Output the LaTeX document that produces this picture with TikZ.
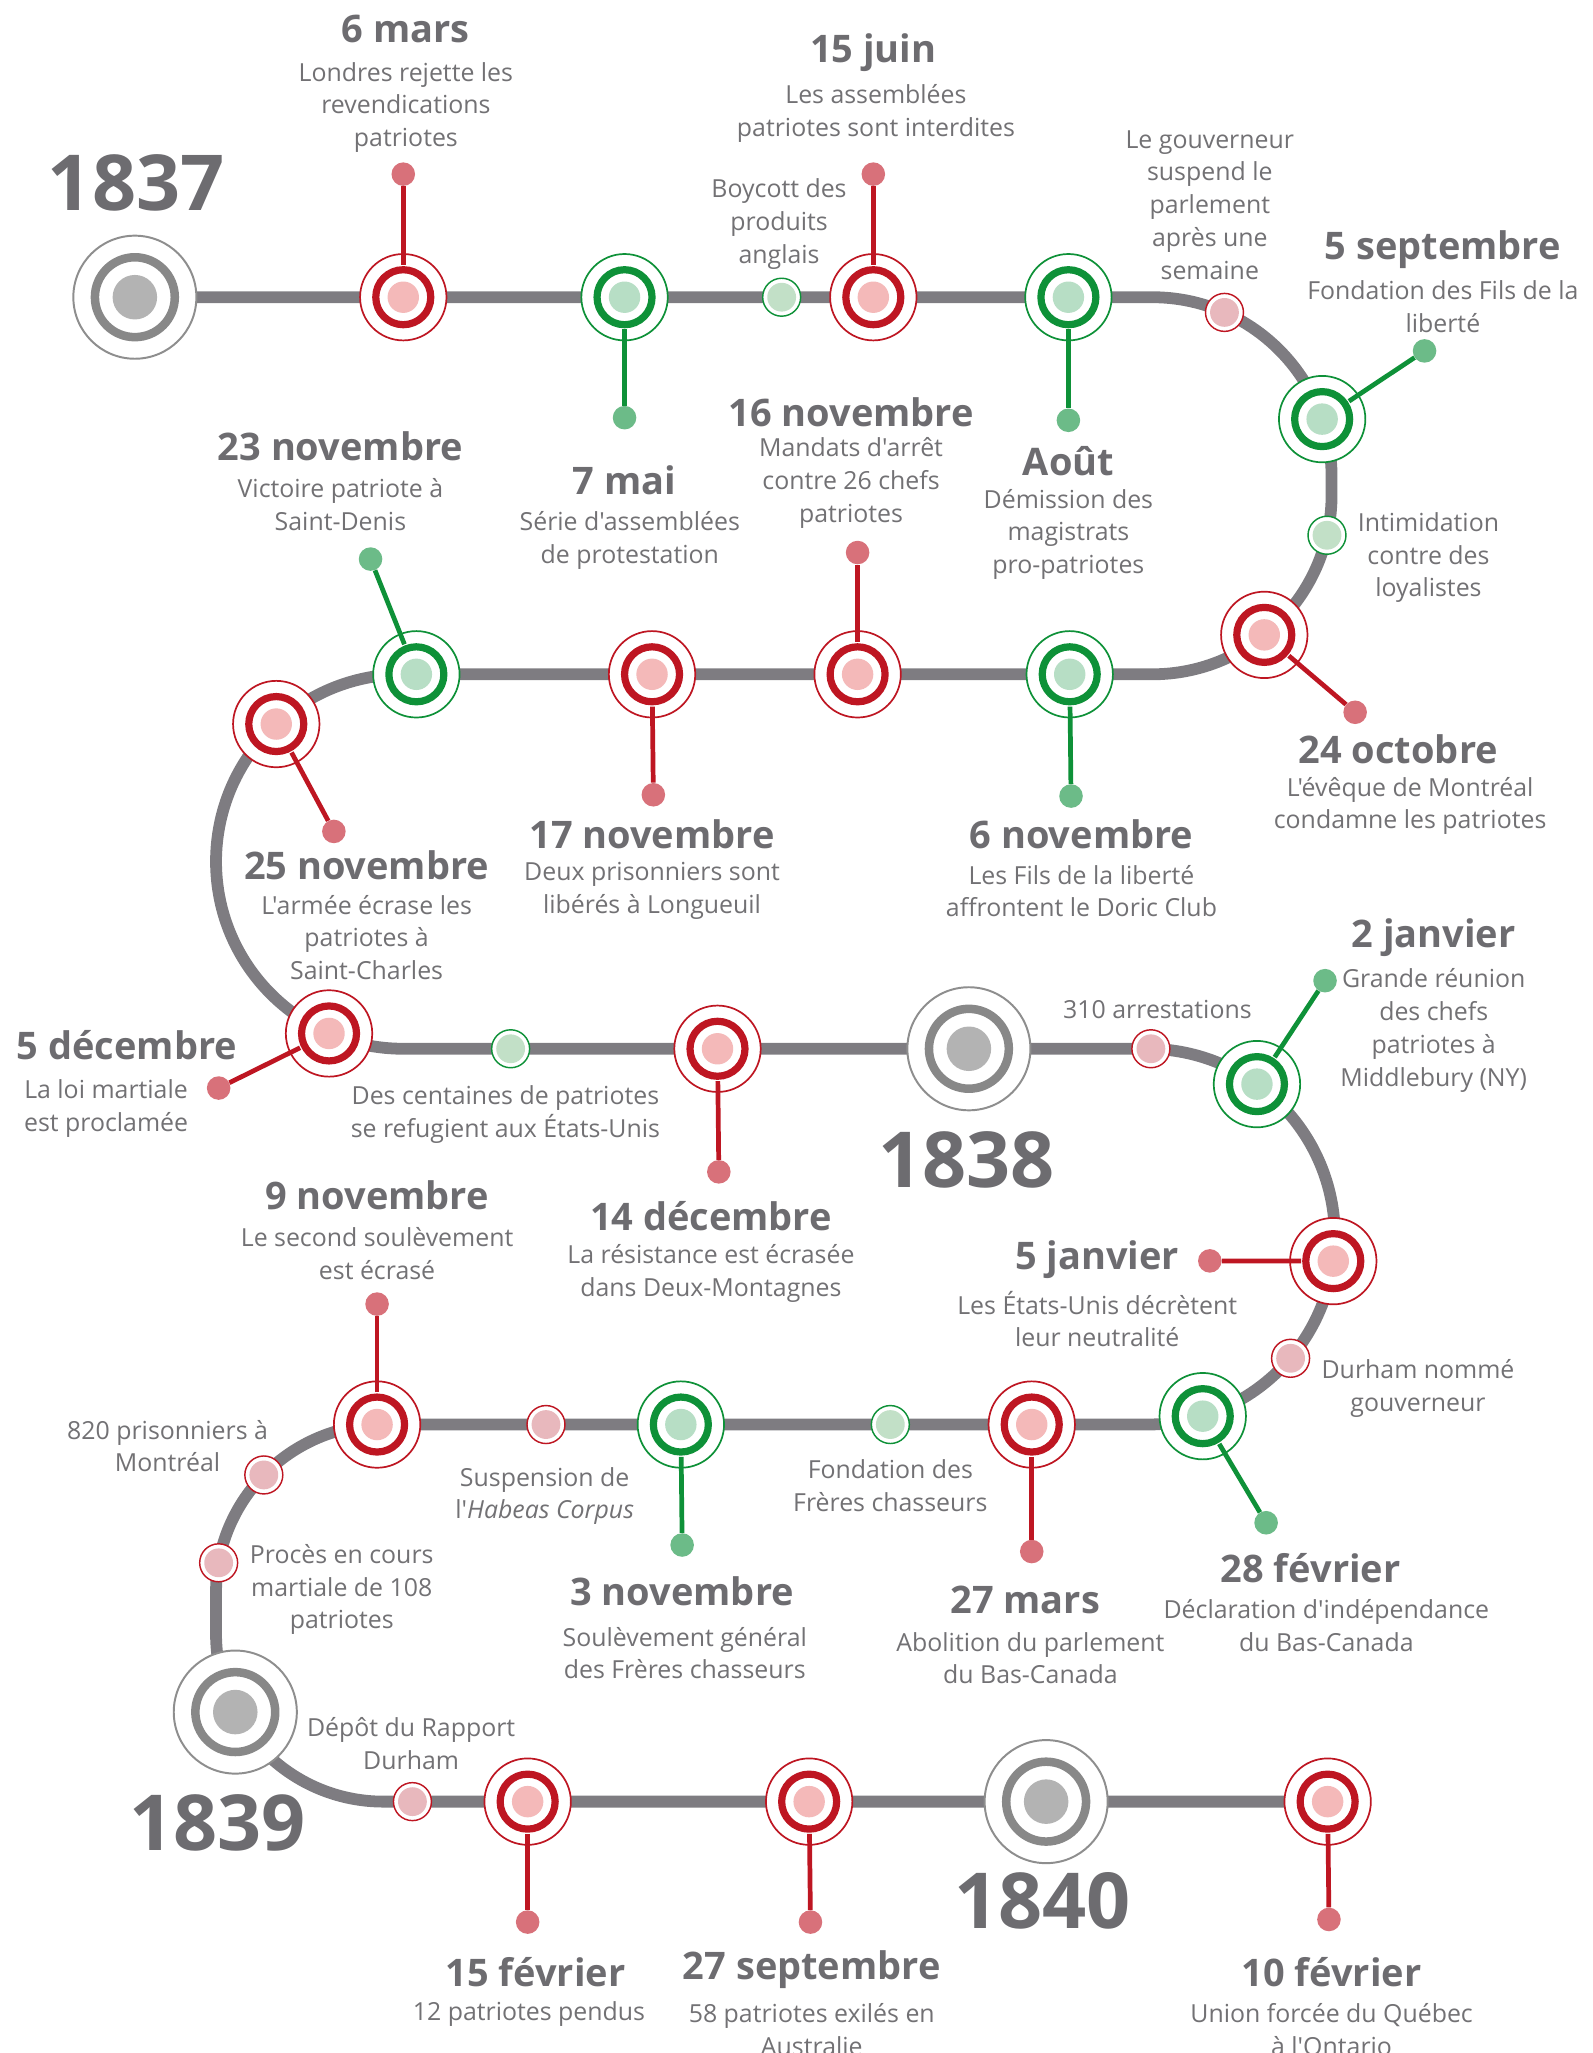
\documentclass[tikz,border=0pt]{standalone}
\usepackage{fontspec}
\setmainfont{Open Sans}[Ligatures=TeXOff]
\usetikzlibrary{backgrounds}
\definecolor{trk}{HTML}{7E7C81}
\definecolor{tgrey}{HTML}{6D6C70}
\definecolor{dgrey}{HTML}{727174}
\definecolor{rring}{HTML}{BE1622}
\definecolor{rfill}{HTML}{F4B9B9}
\definecolor{rsmall}{HTML}{E8B8BD}
\definecolor{rdot}{HTML}{D8717A}
\definecolor{gring}{HTML}{0E9138}
\definecolor{gfill}{HTML}{B7DEC5}
\definecolor{gsmall}{HTML}{C2E0C7}
\definecolor{gdot}{HTML}{6CBB88}
\definecolor{yborder}{HTML}{8E8E8E}
\definecolor{yring}{HTML}{888888}
\definecolor{yfill}{HTML}{B3B3B3}
\begin{document}
\begin{tikzpicture}[x=1pt,y=-1pt,
  bigev/.style 2 args={circle, draw=#1, line width=1.3pt, fill=white, minimum size=66pt, inner sep=0pt,
    path picture={\fill[#2] (path picture bounding box.center) circle (12pt);
      \draw[#1, line width=5.5pt] (path picture bounding box.center) circle (21pt);}},
  redev/.style={bigev={rring}{rfill}},
  greenev/.style={bigev={gring}{gfill}},
  smallev/.style 2 args={circle, draw=#1, line width=1.1pt, fill=white, minimum size=29pt, inner sep=0pt,
    path picture={\fill[#2] (path picture bounding box.center) circle (11pt);}},
  smallred/.style={smallev={rring}{rsmall}},
  smallgreen/.style={smallev={gring}{gsmall}},
  yearmk/.style={circle, draw=yborder, line width=1.5pt, fill=white, minimum size=94pt, inner sep=0pt,
    path picture={\fill[yfill] (path picture bounding box.center) circle (17pt);
      \draw[yring, line width=6.5pt] (path picture bounding box.center) circle (30.5pt);}},
  reddot/.style={circle, fill=rdot, minimum size=18pt, inner sep=0pt},
  greendot/.style={circle, fill=gdot, minimum size=18pt, inner sep=0pt},
  redstem/.style={draw=rring, line width=3.6pt, shorten <=-9pt},
  greenstem/.style={draw=gring, line width=3.6pt, shorten <=-9pt},
  track/.style={draw=trk, line width=9pt},
  ttl/.style={font=\fontsize{29}{32}\selectfont\bfseries, text=tgrey, inner sep=0pt},
  dsc/.style={font=\fontsize{19}{25}\selectfont, text=dgrey, align=center, inner sep=0pt, yshift=-2pt},
  yr/.style={font=\fontsize{59}{59}\selectfont\bfseries, text=tgrey, inner sep=0pt}
]
\useasboundingbox (0,0) rectangle (1216,1568);

% ---------- markers ----------
\node[yearmk] (y37) at (103,227) {};
\node[redev] (e6mars) at (308,227) {};
\node[greenev] (e7mai) at (477,227) {};
\node[smallgreen] (sboy) at (597,227) {};
\node[redev] (e15juin) at (667,227) {};
\node[greenev] (eaout) at (816,227) {};
\node[smallred] (sgouv) at (935.2,238.6) {};
\node[greenev] (e5sep) at (1009.8,320.1) {};
\node[smallgreen] (sintim) at (1013.5,408.8) {};
\node[redev] (e24oct) at (965.6,484.9) {};
\node[greenev] (e6nov) at (817,515) {};
\node[redev] (e16nov) at (655,515) {};
\node[redev] (e17nov) at (498,515) {};
\node[greenev] (e23nov) at (318,515) {};
\node[redev] (e25nov) at (211,553) {};
\node[redev] (e5dec) at (251.3,789.3) {};
\node[smallgreen] (scent) at (390,801) {};
\node[redev] (e14dec) at (548,801) {};
\node[yearmk] (y38) at (740,801) {};
\node[smallred] (s310) at (879,801) {};
\node[greenev] (e2jan) at (960,828) {};
\node[redev] (e5jan) at (1018.3,963.2) {};
\node[smallred] (sdur) at (985.7,1037.4) {};
\node[greenev] (e28fev) at (918.6,1081.6) {};
\node[redev] (e27mars) at (788,1088) {};
\node[smallgreen] (sfond) at (680,1088) {};
\node[greenev] (e3nov) at (520,1088) {};
\node[smallred] (ssusp) at (417,1088) {};
\node[redev] (e9nov) at (288,1088) {};
\node[smallred] (s820) at (201.5,1126.5) {};
\node[smallred] (sproc) at (167,1193.6) {};
\node[yearmk] (y39) at (179.7,1307.6) {};
\node[smallred] (sdep) at (315,1376) {};
\node[redev] (e15fev) at (403,1376) {};
\node[redev] (e27sep) at (618,1376) {};
\node[yearmk] (y40) at (799,1376) {};
\node[redev] (e10fev) at (1014,1376) {};

% ---------- end dots ----------
\node[reddot] (d6mars) at (308,133) {};
\node[greendot] (d7mai) at (477,319) {};
\node[reddot] (d15juin) at (667,133) {};
\node[greendot] (daout) at (816,321) {};
\node[greendot] (d5sep) at (1088,268) {};
\node[reddot] (d24oct) at (1035,544) {};
\node[greendot] (d6nov) at (818,608) {};
\node[reddot] (d16nov) at (655,422) {};
\node[reddot] (d17nov) at (499,607) {};
\node[greendot] (d23nov) at (283,427) {};
\node[reddot] (d25nov) at (255,635) {};
\node[reddot] (d5dec) at (167,831) {};
\node[reddot] (d14dec) at (549,895) {};
\node[greendot] (d2jan) at (1012,749) {};
\node[reddot] (d5jan) at (924,963) {};
\node[greendot] (d28fev) at (967,1163) {};
\node[reddot] (d27mars) at (788,1185) {};
\node[greendot] (d3nov) at (521,1180) {};
\node[reddot] (d9nov) at (288,996) {};
\node[reddot] (d15fev) at (403,1468) {};
\node[reddot] (d27sep) at (619,1468) {};
\node[reddot] (d10fev) at (1015,1466) {};

% ---------- stems ----------
\draw[redstem] (e6mars) -- (d6mars);
\draw[greenstem] (e7mai) -- (d7mai);
\draw[redstem] (e15juin) -- (d15juin);
\draw[greenstem] (eaout) -- (daout);
\draw[greenstem] (e5sep) -- (d5sep);
\draw[redstem] (e24oct) -- (d24oct);
\draw[greenstem] (e6nov) -- (d6nov);
\draw[redstem] (e16nov) -- (d16nov);
\draw[redstem] (e17nov) -- (d17nov);
\draw[greenstem] (e23nov) -- (d23nov);
\draw[redstem] (e25nov) -- (d25nov);
\draw[redstem] (e5dec) -- (d5dec);
\draw[redstem] (e14dec) -- (d14dec);
\draw[greenstem] (e2jan) -- (d2jan);
\draw[redstem] (e5jan) -- (d5jan);
\draw[greenstem] (e28fev) -- (d28fev);
\draw[redstem] (e27mars) -- (d27mars);
\draw[greenstem] (e3nov) -- (d3nov);
\draw[redstem] (e9nov) -- (d9nov);
\draw[redstem] (e15fev) -- (d15fev);
\draw[redstem] (e27sep) -- (d27sep);
\draw[redstem] (e10fev) -- (d10fev);

% ---------- track ----------
\begin{pgfonlayer}{background}
\draw[track] (y37.center) -- (880,227)
  .. controls (955.7,227) and (1017,288.3) .. (1017,364)
  -- (1017,378)
  .. controls (1017,453.7) and (955.7,515) .. (880,515)
  -- (308,515)
  .. controls (229,515) and (165,579) .. (165,658)
  .. controls (165,737) and (229,801) .. (308,801)
  -- (876,801)
  .. controls (955.3,801) and (1019.5,865.2) .. (1019.5,944.5)
  .. controls (1019.5,1023.8) and (955.3,1088) .. (876,1088)
  -- (293,1088)
  .. controls (222.3,1088) and (165,1145.3) .. (165,1216)
  -- (165,1248)
  .. controls (165,1318.7) and (222.3,1376) .. (293,1376)
  -- (e10fev.center);
\end{pgfonlayer}

% ---------- years ----------
\node[yr] (t1837) at (104,140) {1837};
\node[yr] (t1838) at (738,886) {1838};
\node[yr] (t1839) at (166,1392) {1839};
\node[yr] (t1840) at (796,1452) {1840};

% ---------- texts ----------
\node[ttl] (h6mars) at (310,22) {6 mars};
\node[dsc] (x6mars) at (310,80) {Londres rejette les\\revendications\\patriotes};
\node[ttl] (h15juin) at (667,40) {15 juin};
\node[dsc] (x15juin) at (669,84.5) {Les assemblées\\patriotes sont interdites};
\node[dsc] (xboy) at (595,169) {Boycott des\\produits\\anglais};
\node[dsc] (xgouv) at (924,154.5) {Le gouverneur\\suspend le\\parlement\\après une\\semaine};
\node[ttl] (h5sep) at (1102,191) {5 septembre};
\node[dsc] (x5sep) at (1102,232.5) {Fondation des Fils de la\\liberté};
\node[ttl] (h7mai) at (477,367) {7 mai};
\node[dsc] (x7mai) at (481,410.5) {Série d'assemblées\\de protestation};
\node[ttl] (haout) at (816,352) {Août};
\node[dsc] (xaout) at (816,406) {Démission des\\magistrats\\pro-patriotes};
\node[ttl] (h16nov) at (650,315) {16 novembre};
\node[dsc] (x16nov) at (650,367) {Mandats d'arrêt\\contre 26 chefs\\patriotes};
\node[ttl] (h23nov) at (260,341) {23 novembre};
\node[dsc] (x23nov) at (260,383.5) {Victoire patriote à\\Saint-Denis};
\node[dsc] (xintim) at (1091,424) {Intimidation\\contre des\\loyalistes};
\node[ttl] (h24oct) at (1068,572) {24 octobre};
\node[dsc] (x24oct) at (1077,613.5) {L'évêque de Montréal\\condamne les patriotes};
\node[ttl] (h17nov) at (498,637) {17 novembre};
\node[dsc] (x17nov) at (498,678.5) {Deux prisonniers sont\\libérés à Longueuil};
\node[ttl] (h6nov) at (826,637) {6 novembre};
\node[dsc] (x6nov) at (826,678.5) {Les Fils de la liberté\\affrontent le Doric Club};
\node[ttl] (h25nov) at (280,661) {25 novembre};
\node[dsc] (x25nov) at (280,714) {L'armée écrase les\\patriotes à\\Saint-Charles};
\node[ttl] (h5dec) at (97,798) {5 décembre};
\node[dsc] (x5dec) at (81,844.5) {La loi martiale\\est proclamée};
\node[dsc] (xcent) at (386,849.5) {Des centaines de patriotes\\se refugient aux États-Unis};
\node[ttl] (h2jan) at (1095,716) {2 janvier};
\node[dsc] (x2jan) at (1095,785) {Grande réunion\\des chefs\\patriotes à\\Middlebury (NY)};
\node[dsc] (x310) at (884,769) {310 arrestations};
\node[ttl] (h9nov) at (288,913) {9 novembre};
\node[dsc] (x9nov) at (288,955.5) {Le second soulèvement\\est écrasé};
\node[ttl] (h14dec) at (543,929) {14 décembre};
\node[dsc] (x14dec) at (543,970.5) {La résistance est écrasée\\dans Deux-Montagnes};
\node[ttl] (h5jan) at (838,962) {5 janvier};
\node[dsc] (x5jan) at (838,1005.5) {Les États-Unis décrètent\\leur neutralité};
\node[dsc] (xdur) at (1083,1058.5) {Durham nommé\\gouverneur};
\node[dsc] (x820) at (128,1102.5) {820 prisonniers à\\Montréal};
\node[dsc] (xsusp) at (416,1140.5) {Suspension de\\l'\textit{Habeas Corpus}};
\node[dsc] (xfond) at (680,1132.5) {Fondation des\\Frères chasseurs};
\node[dsc] (xproc) at (261,1212) {Procès en cours\\martiale de 108\\patriotes};
\node[ttl] (h3nov) at (521,1215) {3 novembre};
\node[dsc] (x3nov) at (523,1260.5) {Soulèvement général\\des Frères chasseurs};
\node[ttl] (h27mars) at (783,1222) {27 mars};
\node[dsc] (x27mars) at (787,1264.5) {Abolition du parlement\\du Bas-Canada};
\node[ttl] (h28fev) at (1001,1198) {28 février};
\node[dsc] (x28fev) at (1013,1239.5) {Déclaration d'indépendance\\du Bas-Canada};
\node[dsc] (xdep) at (314,1329.5) {Dépôt du Rapport\\Durham};
\node[ttl] (h15fev) at (409,1506) {15 février};
\node[dsc] (x15fev) at (404,1536) {12 patriotes pendus};
\node[ttl] (h27sep) at (620,1504) {27 septembre};
\node[dsc] (x27sep) at (620,1548) {58 patriotes exilés en\\Australie};
\node[ttl] (h10fev) at (1017,1506) {10 février};
\node[dsc] (x10fev) at (1017,1548) {Union forcée du Québec\\à l'Ontario};
\end{tikzpicture}
\end{document}
